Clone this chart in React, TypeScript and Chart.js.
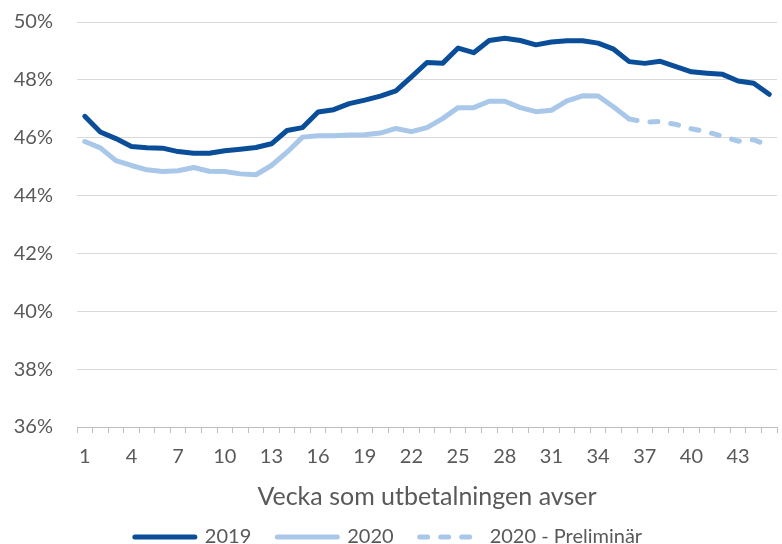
import { useEffect, useRef } from 'react';
import { Chart, registerables } from 'chart.js';

Chart.register(...registerables);

const weeks = [
  '1','2','3','4','5','6','7','8','9','10','11','12','13','14','15','16','17','18','19','20',
  '21','22','23','24','25','26','27','28','29','30','31','32','33','34','35','36','37','38','39','40',
  '41','42','43','44','45',
];

const values2019 = [
  46.74, 46.2, 45.97, 45.7, 45.65, 45.64, 45.52, 45.46, 45.46, 45.55,
  45.6, 45.66, 45.79, 46.25, 46.35, 46.89, 46.97, 47.18, 47.3, 47.44,
  47.62, 48.1, 48.6, 48.57, 49.1, 48.94, 49.36, 49.44, 49.36, 49.21,
  49.31, 49.35, 49.35, 49.27, 49.06, 48.63, 48.57, 48.64, 48.46, 48.28,
  48.23, 48.19, 47.96, 47.88, 47.5,
];

// weeks 1..36
const values2020 = [
  45.87, 45.65, 45.21, 45.04, 44.89, 44.83, 44.86, 44.97, 44.84, 44.83,
  44.75, 44.72, 45.04, 45.5, 46.02, 46.07, 46.07, 46.09, 46.1, 46.16,
  46.32, 46.21, 46.35, 46.66, 47.04, 47.04, 47.26, 47.26, 47.04, 46.9,
  46.95, 47.27, 47.45, 47.44, 47.06, 46.65,
];

// weeks 36..45
const values2020Prelim = [46.65, 46.54, 46.56, 46.46, 46.31, 46.2, 46.05, 45.88, 45.93, 45.73];
const prelimStartWeek = 36;

const yTicks = [36, 38, 40, 42, 44, 46, 48, 50];

const DARK = '#0A4D98';
const LIGHT = '#A9C7E8';
const TEXT = '#595959';
const FONT = 'Lato, "Open Sans", sans-serif';

export default function App() {
  const canvasRef = useRef<HTMLCanvasElement | null>(null);

  useEffect(() => {
    document.body.style.margin = '0';
    const canvas = canvasRef.current;
    if (!canvas) return;

    const data2020 = weeks.map((_, i) => (i < values2020.length ? values2020[i] : null));
    const dataPrelim = weeks.map((_, i) => {
      const j = i - (prelimStartWeek - 1);
      return j >= 0 && j < values2020Prelim.length ? values2020Prelim[j] : null;
    });

    const lineCommon = {
      borderWidth: 5,
      pointRadius: 0,
      tension: 0,
      borderCapStyle: 'round' as const,
      borderJoinStyle: 'round' as const,
    };

    const chart = new Chart(canvas, {
      type: 'line',
      data: {
        labels: weeks,
        datasets: [
          { label: '2019', data: values2019, borderColor: DARK, backgroundColor: DARK, ...lineCommon },
          { label: '2020', data: data2020, borderColor: LIGHT, backgroundColor: LIGHT, ...lineCommon },
          {
            label: '2020 - Preliminär',
            data: dataPrelim,
            borderColor: LIGHT,
            backgroundColor: LIGHT,
            ...lineCommon,
            borderDash: [8, 13],
          },
        ],
      },
      options: {
        animation: false,
        responsive: true,
        maintainAspectRatio: false,
        layout: { padding: { top: 22, right: 5, left: 0, bottom: -13 } },
        plugins: {
          tooltip: { enabled: false },
          legend: {
            position: 'bottom',
            labels: {
              usePointStyle: true,
              pointStyle: 'line',
              pointStyleWidth: 60,
              color: TEXT,
              font: { family: FONT, size: 20 },
              padding: 26,
              generateLabels: (c: any) => {
                const items = (Chart as any).defaults.plugins.legend.labels.generateLabels(c);
                return items.map((it: any) => {
                  const ds: any = c.data.datasets[it.datasetIndex];
                  return {
                    ...it,
                    strokeStyle: ds.borderColor,
                    fillStyle: ds.borderColor,
                    lineWidth: 5,
                    lineDash: ds.borderDash || [],
                    lineCap: 'round',
                    pointStyle: 'line',
                  };
                });
              },
            },
          },
        },
        scales: {
          x: {
            type: 'category',
            offset: true,
            grid: {
              offset: true,
              drawOnChartArea: false,
              drawTicks: true,
              tickLength: 6,
              color: '#BFBFBF',
            },
            border: { display: true, color: '#BFBFBF' },
            ticks: {
              autoSkip: false,
              maxRotation: 0,
              color: TEXT,
              font: { family: FONT, size: 20 },
              padding: 12,
              callback: (_v: any, i: number) => (i % 3 === 0 ? weeks[i] : ''),
            },
            title: {
              display: true,
              text: 'Vecka som utbetalningen avser',
              color: TEXT,
              font: { family: FONT, size: 25 },
              padding: { top: 0, bottom: -11 },
            },
            afterFit: (s: any) => {
              s.height = 74;
            },
          },
          y: {
            min: yTicks[0],
            max: yTicks[yTicks.length - 1],
            afterBuildTicks: (s: any) => {
              s.ticks = yTicks.map((v) => ({ value: v }));
            },
            ticks: {
              color: TEXT,
              font: { family: FONT, size: 20 },
              padding: 24,
              callback: (v: any) => v + '%',
            },
            grid: { color: '#D9D9D9', drawTicks: false, lineWidth: 1 },
            border: { display: false },
            afterFit: (s: any) => {
              s.width = 77;
              s.paddingTop = 0;
              s.paddingBottom = 0;
            },
          },
        },
      },
    });

    return () => chart.destroy();
  }, []);

  return (
    <div style={{ position: 'relative', width: 782, height: 544 }}>
      <canvas ref={canvasRef} />
    </div>
  );
}
